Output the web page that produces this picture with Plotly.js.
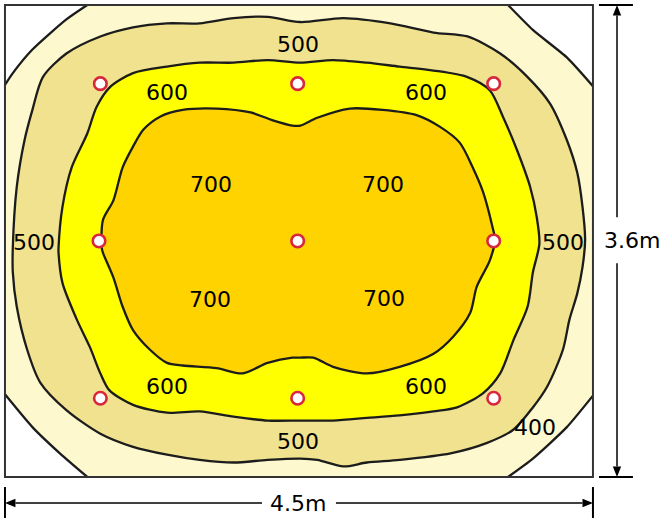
<!DOCTYPE html>
<html><head><meta charset="utf-8">
<script src="https://cdn.plot.ly/plotly-3.0.1.min.js"></script>
<style>html,body{margin:0;padding:0;background:#fff}#chart{width:663px;height:524px}</style>
</head><body><div id="chart"></div>
<script>
// Room size (m)
const roomWidth = 4.5;
const roomDepth = 3.6;

// Luminaire positions (m, y measured from top wall)
const lampX = [0.73, 2.24, 3.74, 0.72, 2.24, 3.74, 0.73, 2.24, 3.74];
const lampY = [0.60, 0.60, 0.60, 1.80, 1.80, 1.80, 3.00, 3.00, 3.00];

// 400 lx iso-line pieces in the four corners
const c400TLx = [0.63, 0.47, 0.21, 0.06, 0.00];
const c400TLy = [0.00, 0.11, 0.34, 0.52, 0.61];
const c400TRx = [3.85, 4.04, 4.30, 4.50];
const c400TRy = [0.00, 0.19, 0.40, 0.62];
const c400BLx = [0.00, 0.21, 0.42, 0.63];
const c400BLy = [2.97, 3.22, 3.42, 3.60];
const c400BRx = [3.85, 4.04, 4.30, 4.50];
const c400BRy = [3.60, 3.46, 3.22, 2.98];

// 500 lx iso-line
const c500x = [0.06,0.09,0.15,0.21,0.29,0.47,0.73,0.98,1.24,1.49,1.75,2.01,2.26,2.59,2.95,3.28,3.54,3.79,4.00,4.17,4.30,4.38,4.42,4.44,4.42,4.38,4.32,4.27,4.15,4.04,3.89,3.69,3.41,3.02,2.77,2.59,2.39,2.26,2.01,1.75,1.49,1.24,0.98,0.73,0.47,0.27,0.17,0.09,0.06,0.06];
const c500y = [1.85,1.39,1.03,0.80,0.55,0.37,0.24,0.17,0.14,0.14,0.10,0.09,0.13,0.10,0.14,0.21,0.24,0.37,0.55,0.75,1.03,1.28,1.54,1.79,2.00,2.20,2.40,2.63,2.91,3.07,3.24,3.34,3.42,3.47,3.49,3.52,3.47,3.46,3.47,3.49,3.47,3.43,3.37,3.27,3.09,2.88,2.63,2.30,2.04,1.85];

// 600 lx iso-line
const c600x = [0.41,0.44,0.51,0.63,0.70,0.80,0.98,1.24,1.49,1.75,2.01,2.26,2.51,2.77,3.02,3.28,3.54,3.71,3.81,3.92,4.02,4.07,4.09,4.04,4.00,3.89,3.79,3.66,3.46,3.28,3.02,2.77,2.51,2.26,2.01,1.75,1.49,1.24,0.98,0.80,0.73,0.65,0.55,0.44,0.41,0.41];
const c600y = [1.85,1.54,1.24,0.98,0.78,0.63,0.52,0.47,0.44,0.44,0.42,0.44,0.42,0.44,0.47,0.50,0.55,0.65,0.85,1.11,1.39,1.62,1.82,2.04,2.30,2.56,2.81,2.96,3.07,3.10,3.13,3.15,3.17,3.17,3.17,3.14,3.10,3.11,3.05,2.94,2.81,2.61,2.40,2.12,1.89,1.85];

// 700 lx iso-line
const c700x = [0.74,0.75,0.83,0.90,0.98,1.06,1.19,1.36,1.62,1.88,2.05,2.20,2.26,2.39,2.64,2.89,3.15,3.33,3.48,3.58,3.66,3.73,3.75,3.71,3.61,3.56,3.43,3.28,3.02,2.77,2.51,2.36,2.26,2.20,2.01,1.82,1.62,1.36,1.24,1.11,0.98,0.90,0.83,0.75,0.74];
const c700y = [1.85,1.64,1.49,1.24,1.08,0.95,0.85,0.80,0.79,0.82,0.88,0.92,0.92,0.86,0.79,0.80,0.84,0.93,1.05,1.24,1.43,1.69,1.79,1.95,2.15,2.35,2.53,2.66,2.76,2.81,2.76,2.69,2.69,2.69,2.73,2.81,2.77,2.75,2.73,2.63,2.48,2.30,2.08,1.89,1.85];

// Iso-line labels
const labelText = ['500','600','600','700','700','500','500','700','700','600','600','500','400'];
const labelX = [2.24,1.24,3.22,1.58,2.89,0.22,4.27,1.57,2.90,1.24,3.22,2.24,4.06];
const labelY = [0.30,0.67,0.67,1.37,1.37,1.81,1.81,2.25,2.24,2.91,2.91,3.33,3.22];

// Dimension labels
const dimText = ['3.6m', '4.5m'];

const LINE = '#1c1c1c';
const CREAM = '#FEF8CF';
const KHAKI = '#F0E28E';
const YELLOW = '#FFFF00';
const GOLD = '#FFD300';

function closedPoly(x, y, fill) {
  return {type:'scatter', mode:'lines', x:x, y:y, fill:'toself', fillcolor:fill,
    line:{color:LINE, width:2.3, shape:'spline', smoothing:0.8}, hoverinfo:'skip', showlegend:false};
}
function cornerPoly(x, y, cx, cy) {
  return {type:'scatter', mode:'lines', x:x.concat([cx, x[0]]), y:y.concat([cy, y[0]]), fill:'toself', fillcolor:'#ffffff',
    line:{color:'rgba(0,0,0,0)', width:0}, hoverinfo:'skip', showlegend:false};
}
function cornerLine(x, y) {
  return {type:'scatter', mode:'lines', x:x, y:y, line:{color:LINE, width:2.3, shape:'spline', smoothing:0.6}, hoverinfo:'skip', showlegend:false};
}

const traces = [
  cornerPoly(c400TLx, c400TLy, 0, 0),
  cornerPoly(c400TRx, c400TRy, roomWidth, 0),
  cornerPoly(c400BLx, c400BLy, 0, roomDepth),
  cornerPoly(c400BRx, c400BRy, roomWidth, roomDepth),
  cornerLine(c400TLx, c400TLy), cornerLine(c400TRx, c400TRy),
  cornerLine(c400BLx, c400BLy), cornerLine(c400BRx, c400BRy),
  closedPoly(c500x, c500y, KHAKI),
  closedPoly(c600x, c600y, YELLOW),
  closedPoly(c700x, c700y, GOLD),
  {type:'scatter', mode:'markers', x:lampX, y:lampY,
   marker:{symbol:'circle', size:12.5, color:'#ffffff', line:{color:'#D8263C', width:2.6}},
   hoverinfo:'skip', showlegend:false}
];

const annotations = labelText.map((t, i) => ({
  x: labelX[i], y: labelY[i], xref:'x', yref:'y', text:t, showarrow:false,
  font:{family:'DejaVu Sans', size:22, color:'#000'}, xanchor:'center', yanchor:'middle'
}));

// dimension line geometry (m)
const vx = roomWidth + 0.184;   // vertical dimension line
const hy = roomDepth + 0.199;   // horizontal dimension line
annotations.push({x: roomWidth + 0.30, y: roomDepth/2, xref:'x', yref:'y', text:dimText[0], showarrow:false,
  font:{family:'DejaVu Sans', size:22, color:'#000'}, xanchor:'center', yanchor:'middle'});
annotations.push({x: roomWidth/2 - 0.01, y: hy, xref:'x', yref:'y', text:dimText[1], showarrow:false,
  font:{family:'DejaVu Sans', size:22, color:'#000'}, xanchor:'center', yanchor:'middle'});

const ah = 0.08, aw = 0.032; // arrowhead length/half width
const shapes = [
  {type:'rect', layer:'below', xref:'x', yref:'y', x0:0, y0:0, x1:roomWidth, y1:roomDepth, fillcolor:CREAM, line:{width:0}},
  {type:'rect', layer:'above', xref:'x', yref:'y', x0:0, y0:0, x1:roomWidth, y1:roomDepth, line:{color:'#333', width:2}},
  // vertical dimension
  {type:'line', xref:'x', yref:'y', x0:roomWidth+0.046, x1:roomWidth+0.306, y0:0, y1:0, line:{color:'#000', width:2}},
  {type:'line', xref:'x', yref:'y', x0:roomWidth+0.046, x1:roomWidth+0.306, y0:roomDepth, y1:roomDepth, line:{color:'#000', width:2}},
  {type:'line', xref:'x', yref:'y', x0:vx, x1:vx, y0:ah, y1:1.62, line:{color:'#000', width:1.5}},
  {type:'line', xref:'x', yref:'y', x0:vx, x1:vx, y0:1.97, y1:roomDepth-ah, line:{color:'#000', width:1.5}},
  {type:'path', xref:'x', yref:'y', path:`M ${vx} 0 L ${vx-aw} ${ah} L ${vx+aw} ${ah} Z`, fillcolor:'#000', line:{width:0}},
  {type:'path', xref:'x', yref:'y', path:`M ${vx} ${roomDepth} L ${vx-aw} ${roomDepth-ah} L ${vx+aw} ${roomDepth-ah} Z`, fillcolor:'#000', line:{width:0}},
  // horizontal dimension
  {type:'line', xref:'x', yref:'y', x0:0, x1:0, y0:roomDepth+0.077, y1:roomDepth+0.313, line:{color:'#000', width:2}},
  {type:'line', xref:'x', yref:'y', x0:roomWidth, x1:roomWidth, y0:roomDepth+0.077, y1:roomDepth+0.313, line:{color:'#000', width:2}},
  {type:'line', xref:'x', yref:'y', x0:ah, x1:1.967, y0:hy, y1:hy, line:{color:'#000', width:1.5}},
  {type:'line', xref:'x', yref:'y', x0:2.533, x1:roomWidth-ah, y0:hy, y1:hy, line:{color:'#000', width:1.5}},
  {type:'path', xref:'x', yref:'y', path:`M 0 ${hy} L ${ah} ${hy-aw} L ${ah} ${hy+aw} Z`, fillcolor:'#000', line:{width:0}},
  {type:'path', xref:'x', yref:'y', path:`M ${roomWidth} ${hy} L ${roomWidth-ah} ${hy-aw} L ${roomWidth-ah} ${hy+aw} Z`, fillcolor:'#000', line:{width:0}}
];

const layout = {
  width:663, height:524, margin:{l:0, r:0, t:0, b:0},
  paper_bgcolor:'#fff', plot_bgcolor:'#fff',
  xaxis:{range:[-0.038, 5.036], visible:false, fixedrange:true},
  yaxis:{range:[3.959, -0.038], visible:false, fixedrange:true},
  showlegend:false, shapes:shapes, annotations:annotations
};
Plotly.newPlot('chart', traces, layout, {staticPlot:true, displayModeBar:false});
</script></body></html>
